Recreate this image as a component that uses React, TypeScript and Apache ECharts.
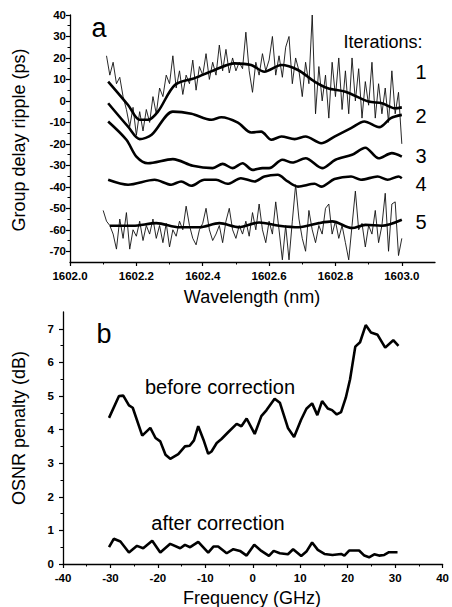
import React, { useEffect, useRef } from "react";
import * as echarts from "echarts";

// ---------- Panel a: group delay ripple ----------
const wlLabels = [1602.0, 1602.2, 1602.4, 1602.6, 1602.8, 1603.0];
const wlMinor = [1602.1, 1602.3, 1602.5, 1602.7, 1602.9];
const gdLabels = [-70, -60, -50, -40, -30, -20, -10, 0, 10, 20, 30, 40];
const gdMinor = [-65, -55, -45, -35, -25, -15, -5, 5, 15, 25, 35];

const noisyStart1 = 1602.11;
const noisyStart5 = 1602.1;
const noisyStep = 0.01;

const noisy1 = [
  21, 12, 18, 8, 11, 2, -4, -12, -3, -16, -5, -14, -4, -10, 2, -6, 6, 2, 12, 8,
  21, 6, 14, 3, 12, 8, 19, 5, 16, 12, 22, 10, 18, 12, 26, 14, 24, 13, 20, 14,
  18, 15, 32, 14, 4, 18, 12, 22, 14, 19, 30, 12, 21, 11, 25, 30, 8, 20, 14, 2,
  18, 8, 40, -6, 16, 0, 12, -8, 18, 2, 20, -4, 14, -6, 20, 0, 15, -8, 9, -2,
  18, -8, 8, -6, 6, -10, 14, -6, 4, -20,
];

const noisy5 = [
  -51, -56, -58, -62, -69, -55, -64, -52, -69, -60, -63, -56, -65, -58, -62, -55,
  -64, -58, -66, -57, -68, -60, -63, -56, -60, -49, -58, -64, -67, -60, -57, -50,
  -60, -65, -62, -58, -66, -56, -50, -60, -64, -58, -62, -56, -63, -52, -60, -48,
  -60, -66, -56, -62, -47, -60, -74, -58, -74, -56, -39, -55, -64, -70, -51, -60,
  -66, -58, -62, -50, -48, -62, -56, -64, -58, -66, -74, -58, -42, -60, -57, -68,
  -58, -62, -51, -66, -58, -43, -70, -48, -47, -72, -64,
];

const smooth1: [number, number][] = [
  [1602.115, 9], [1602.175, -1.9], [1602.21, -8.8], [1602.235, -8.8], [1602.265, -5],
  [1602.316, 7.4], [1602.376, 10.6], [1602.436, 14.4], [1602.496, 17.5], [1602.546, 16.7],
  [1602.586, 13.6], [1602.637, 16.7], [1602.687, 14.4], [1602.737, 9], [1602.777, 5.9],
  [1602.83, 4.3], [1602.9, -0.3], [1602.94, -1.1], [1602.98, -3.4], [1603.0, -3],
];

const smooth2: [number, number][] = [
  [1602.115, -1.1], [1602.175, -12], [1602.21, -17.8], [1602.246, -15.8], [1602.31, -5],
  [1602.366, -6], [1602.426, -8.8], [1602.456, -7.6], [1602.506, -10.1], [1602.546, -14.7],
  [1602.576, -14.3], [1602.607, -18.1], [1602.637, -16.6], [1602.677, -17.8], [1602.71, -16.6],
  [1602.757, -19.7], [1602.797, -16.6], [1602.847, -12.7], [1602.887, -9.6], [1602.932, -12.2],
  [1602.967, -8], [1603.0, -6.5],
];

const smooth3: [number, number][] = [
  [1602.115, -9.6], [1602.17, -18.1], [1602.2, -25.9], [1602.235, -29], [1602.31, -27.1],
  [1602.37, -30.2], [1602.43, -31.3], [1602.46, -29.3], [1602.49, -31.3], [1602.52, -29],
  [1602.55, -32.1], [1602.58, -31.3], [1602.6, -31.3], [1602.64, -27.4], [1602.67, -28.7],
  [1602.71, -26.7], [1602.76, -31.3], [1602.8, -27.4], [1602.85, -25.1], [1602.89, -21.8],
  [1602.93, -26.7], [1602.97, -24.3], [1603.0, -25.9],
];

const smooth4: [number, number][] = [
  [1602.115, -36.7], [1602.175, -39], [1602.255, -36.7], [1602.305, -39], [1602.335, -37.5],
  [1602.365, -39.5], [1602.405, -36.7], [1602.44, -36.7], [1602.475, -38.6], [1602.515, -36],
  [1602.556, -37.5], [1602.586, -35.2], [1602.626, -34.4], [1602.656, -37.5], [1602.687, -39.9],
  [1602.737, -38.6], [1602.757, -39.9], [1602.797, -36.4], [1602.847, -35.2], [1602.877, -36.7],
  [1602.927, -35.2], [1602.957, -36.7], [1602.99, -35.2], [1603.0, -36],
];

const smooth5: [number, number][] = [
  [1602.12, -58.1], [1602.19, -58.1], [1602.26, -56.9], [1602.33, -58.8], [1602.39, -58.8],
  [1602.45, -56.9], [1602.51, -58.8], [1602.57, -56.6], [1602.63, -58.1], [1602.69, -58.8],
  [1602.75, -56.9], [1602.79, -56.1], [1602.85, -59.2], [1602.89, -57.7], [1602.94, -58.1],
  [1603.0, -55.3],
];

// ---------- Panel b: OSNR penalty ----------
const freqLabels = [-40, -30, -20, -10, 0, 10, 20, 30, 40];
const freqMinor = [-35, -25, -15, -5, 5, 15, 25, 35];
const osnrLabels = [0, 1, 2, 3, 4, 5, 6, 7];
const osnrMinor = [0.5, 1.5, 2.5, 3.5, 4.5, 5.5, 6.5];

const beforeCorrection: [number, number][] = [
  [-30.3, 4.35], [-28.2, 5.0], [-27.3, 5.01], [-26.1, 4.72], [-25.3, 4.65], [-23.3, 3.82],
  [-21.6, 4.05], [-20.5, 3.75], [-19.5, 3.65], [-18.4, 3.25], [-17.4, 3.13], [-15.7, 3.27],
  [-14.3, 3.5], [-13.3, 3.52], [-12.4, 3.68], [-11.5, 4.1], [-10.4, 3.7], [-9.4, 3.28],
  [-8.7, 3.35], [-7.6, 3.6], [-6.6, 3.72], [-5.2, 3.92], [-3.4, 4.17], [-2.4, 4.1],
  [-1.3, 4.33], [0.4, 3.87], [1.8, 4.4], [2.9, 4.58], [4.6, 4.92], [5.7, 4.8],
  [7.4, 4.05], [8.7, 3.78], [10.2, 4.3], [11.3, 4.62], [12.5, 4.78], [13.6, 4.43],
  [14.6, 4.85], [15.8, 4.63], [16.7, 4.58], [17.7, 4.45], [18.6, 4.52], [19.6, 4.95],
  [20.5, 5.5], [21.6, 6.47], [22.6, 6.6], [23.8, 7.11], [24.9, 6.89], [26.3, 6.82],
  [27.9, 6.44], [29.6, 6.66], [30.7, 6.49],
];

const afterCorrection: [number, number][] = [
  [-30.3, 0.5], [-29.3, 0.75], [-27.9, 0.67], [-26.1, 0.34], [-24.4, 0.54], [-23.1, 0.47],
  [-21.2, 0.69], [-19.5, 0.34], [-17.4, 0.6], [-15.3, 0.47], [-14.3, 0.57], [-13.2, 0.5],
  [-11.5, 0.66], [-9.4, 0.34], [-8.3, 0.52], [-7.3, 0.52], [-5.5, 0.32], [-4.1, 0.44],
  [-2.7, 0.39], [-1.3, 0.25], [0.3, 0.57], [1.8, 0.39], [3.4, 0.24], [4.4, 0.39],
  [5.7, 0.32], [7.4, 0.29], [8.5, 0.44], [10.2, 0.24], [11.3, 0.37], [12.5, 0.64],
  [13.7, 0.42], [15.1, 0.3], [16.8, 0.27], [18.6, 0.3], [19.3, 0.25], [20.3, 0.4],
  [22.4, 0.4], [23.5, 0.25], [24.5, 0.2], [25.6, 0.29], [26.6, 0.25], [27.7, 0.27],
  [28.7, 0.35], [30.5, 0.35],
];

const FONT = "'Liberation Sans', Arial, Helvetica, sans-serif";
const INK = "#000";

function majorAxis(base: any, labels: number[], fmt: (v: number) => string, margin: number) {
  return {
    ...base,
    type: "value",
    axisLine: { show: true, onZero: false, lineStyle: { color: INK, width: 1.3 } },
    axisTick: { show: true, customValues: labels, length: 4, lineStyle: { color: INK, width: 1.2 } },
    axisLabel: {
      show: true,
      customValues: labels,
      formatter: (v: number) => fmt(v),
      color: INK,
      fontFamily: FONT,
      fontSize: 11.5,
      fontWeight: "bold",
      margin,
    },
    splitLine: { show: false },
  };
}

function minorAxis(base: any, values: number[]) {
  return {
    ...base,
    type: "value",
    axisLine: { show: false, onZero: false },
    axisTick: { show: true, customValues: values, length: 2.5, lineStyle: { color: INK, width: 1 } },
    axisLabel: { show: false },
    splitLine: { show: false },
  };
}

function txt(text: string, x: number, y: number, size: number, rotation = 0) {
  return {
    type: "text",
    x,
    y,
    rotation,
    silent: true,
    style: {
      text,
      fill: INK,
      font: `${size}px ${FONT}`,
      textAlign: "center",
      textVerticalAlign: "middle",
      align: "center",
      verticalAlign: "middle",
    },
  };
}

export default function App() {
  const ref = useRef<HTMLDivElement>(null);

  useEffect(() => {
    if (!ref.current) return;
    const chart = echarts.init(ref.current, undefined, { renderer: "svg" });

    const noisy1Data = noisy1.map((v, i) => [noisyStart1 + i * noisyStep, v]);
    const noisy5Data = noisy5.map((v, i) => [noisyStart5 + i * noisyStep, v]);

    const thick = { color: INK, width: 2.6 };
    const thin = { color: "#111", width: 0.9 };

    const xa = { gridIndex: 0, min: 1602.0, max: 1603.1 };
    const ya = { gridIndex: 0, min: -75, max: 40 };
    const xb = { gridIndex: 1, min: -40, max: 40 };
    const yb = { gridIndex: 1, min: 0, max: 7.5 };

    const option: any = {
      animation: false,
      backgroundColor: "#fff",
      grid: [
        { left: 70, right: 17, top: 15, bottom: 345, containLabel: false },
        { left: 63, right: 7, top: 312, bottom: 43, containLabel: false },
      ],
      xAxis: [
        majorAxis({ ...xa, position: "bottom" }, wlLabels, (v) => v.toFixed(1), 8),
        minorAxis({ ...xa, position: "bottom" }, wlMinor),
        majorAxis({ ...xb, position: "bottom" }, freqLabels, (v) => String(Math.round(v)), 8),
        minorAxis({ ...xb, position: "bottom" }, freqMinor),
      ],
      yAxis: [
        majorAxis({ ...ya, position: "left" }, gdLabels, (v) => String(Math.round(v)), 4),
        minorAxis({ ...ya, position: "left" }, gdMinor),
        majorAxis({ ...yb, position: "left" }, osnrLabels, (v) => String(Math.round(v)), 9),
        minorAxis({ ...yb, position: "left" }, osnrMinor),
      ],
      series: [
        { type: "line", xAxisIndex: 0, yAxisIndex: 0, data: noisy1Data, showSymbol: false, lineStyle: thin },
        { type: "line", xAxisIndex: 0, yAxisIndex: 0, data: noisy5Data, showSymbol: false, lineStyle: thin },
        { type: "line", xAxisIndex: 0, yAxisIndex: 0, data: smooth1, showSymbol: false, smooth: 0.3, lineStyle: thick },
        { type: "line", xAxisIndex: 0, yAxisIndex: 0, data: smooth2, showSymbol: false, smooth: 0.3, lineStyle: thick },
        { type: "line", xAxisIndex: 0, yAxisIndex: 0, data: smooth3, showSymbol: false, smooth: 0.3, lineStyle: thick },
        { type: "line", xAxisIndex: 0, yAxisIndex: 0, data: smooth4, showSymbol: false, smooth: 0.3, lineStyle: thick },
        { type: "line", xAxisIndex: 0, yAxisIndex: 0, data: smooth5, showSymbol: false, smooth: 0.3, lineStyle: thick },
        { type: "line", xAxisIndex: 2, yAxisIndex: 2, data: beforeCorrection, showSymbol: false, lineStyle: thick },
        { type: "line", xAxisIndex: 2, yAxisIndex: 2, data: afterCorrection, showSymbol: false, lineStyle: thick },
      ],
      graphic: [
        txt("a", 99, 28, 27),
        txt("Iterations:", 383, 42, 18),
        txt("1", 421, 72, 20),
        txt("2", 421, 116, 20),
        txt("3", 421, 156, 20),
        txt("4", 421, 184, 20),
        txt("5", 421, 222, 20),
        txt("Group delay ripple (ps)", 19, 140, 18, Math.PI / 2),
        txt("Wavelength (nm)", 252, 297, 18),
        txt("b", 104, 334, 27),
        txt("before correction", 220, 387, 20),
        txt("after correction", 218, 523, 20),
        txt("OSNR penalty (dB)", 19, 428, 18, Math.PI / 2),
        txt("Frequency (GHz)", 252, 598, 18),
      ],
    };

    chart.setOption(option);
    return () => chart.dispose();
  }, []);

  return (
    <div
      ref={ref}
      style={{ position: "absolute", left: 0, top: 0, width: 452, height: 607, background: "#fff" }}
    />
  );
}
